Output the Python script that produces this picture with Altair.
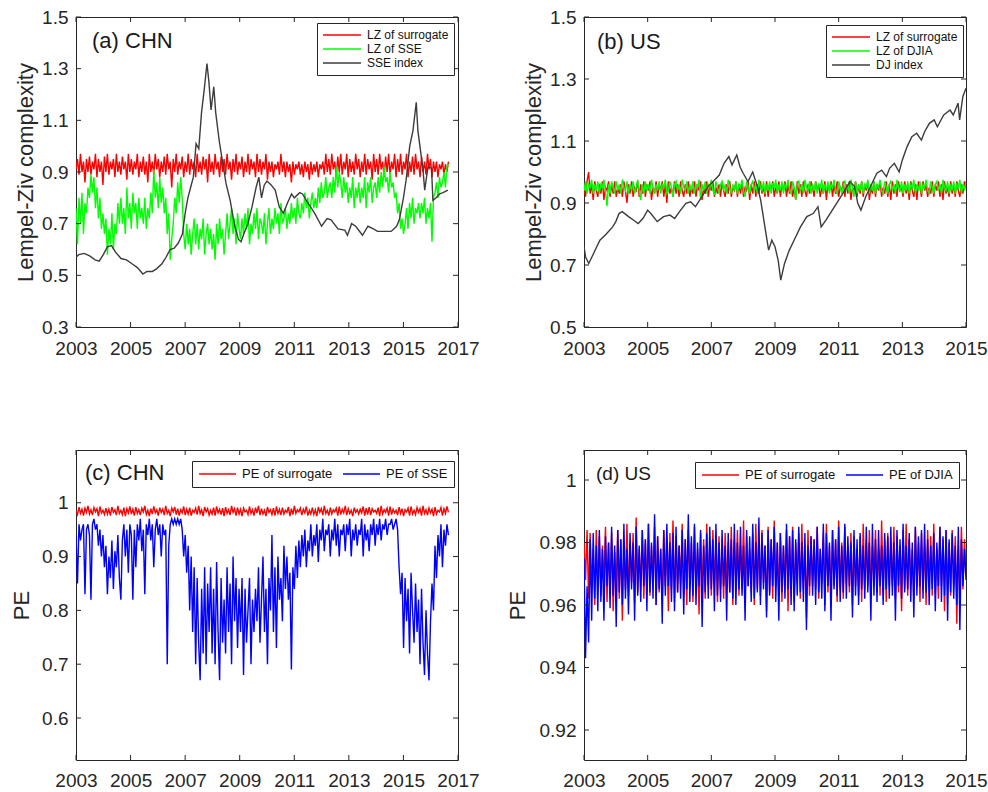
import altair as alt
import numpy as np
import pandas as pd

FONT = "Liberation Sans"
AX = "#262626"
W, H = 382, 310

# ---------------- data ----------------
# panel (a) CHN, LZ complexity; samples span 2003.0 .. 2016.65
a_start, a_end = 2003.0, 2016.65
lz_sur_chn = [
    0.91,0.95,0.89,0.97,0.90,0.94,0.86,0.95,0.90,0.96,
    0.89,0.94,0.91,0.97,0.88,0.95,0.90,0.94,0.85,0.96,
    0.90,0.97,0.89,0.94,0.91,0.95,0.88,0.97,0.90,0.94,
    0.89,0.96,0.91,0.94,0.87,0.97,0.90,0.95,0.89,0.94,
    0.91,0.97,0.88,0.94,0.90,0.96,0.89,0.94,0.86,0.97,
    0.90,0.94,0.89,0.97,0.91,0.95,0.88,0.94,0.90,0.96,
    0.89,0.97,0.91,0.94,0.84,0.95,0.90,0.97,0.89,0.94,
    0.91,0.96,0.88,0.94,0.90,0.97,0.89,0.95,0.91,0.94,
    0.88,0.97,0.90,0.94,0.89,0.96,0.91,0.95,0.86,0.97,
    0.90,0.94,0.89,0.97,0.91,0.94,0.88,0.96,0.90,0.95,
    0.89,0.97,0.91,0.94,0.87,0.95,0.90,0.97,0.89,0.94,
    0.91,0.96,0.88,0.94,0.90,0.97,0.89,0.95,0.91,0.94,
    0.88,0.97,0.90,0.95,0.89,0.94,0.91,0.97,0.87,0.94,
    0.90,0.94,0.88,0.93,0.91,0.94,0.89,0.97,0.90,0.94,
    0.88,0.94,0.90,0.93,0.86,0.94,0.89,0.93,0.91,0.94,
    0.89,0.93,0.88,0.94,0.90,0.93,0.87,0.94,0.89,0.93,
    0.90,0.94,0.88,0.93,0.91,0.94,0.89,0.97,0.90,0.95,
    0.89,0.97,0.91,0.94,0.88,0.96,0.90,0.97,0.89,0.94,
    0.91,0.97,0.88,0.95,0.90,0.94,0.89,0.97,0.91,0.95,
    0.88,0.94,0.90,0.97,0.89,0.95,0.91,0.94,0.87,0.97,
    0.90,0.95,0.89,0.97,0.91,0.94,0.88,0.96,0.90,0.97,
    0.89,0.94,0.91,0.97,0.88,0.95,0.90,0.97,0.89,0.94,
    0.91,0.97,0.88,0.94,0.90,0.96,0.89,0.97,0.91,0.94,
    0.88,0.96,0.90,0.94,0.89,0.97,0.91,0.95,0.88,0.94,
    0.90,0.94,0.88,0.93,0.91,0.94,0.89,0.93,0.90,0.94,
]
lz_sse = [
    0.76,0.62,0.80,0.70,0.82,0.66,0.78,0.74,0.84,0.80,
    0.89,0.82,0.88,0.76,0.84,0.72,0.80,0.68,0.74,0.66,
    0.72,0.58,0.68,0.62,0.74,0.60,0.70,0.66,0.78,0.70,
    0.80,0.70,0.76,0.66,0.84,0.72,0.78,0.68,0.82,0.74,
    0.78,0.68,0.80,0.72,0.76,0.70,0.80,0.68,0.76,0.72,
    0.82,0.74,0.91,0.80,0.86,0.76,0.88,0.78,0.84,0.74,
    0.80,0.66,0.74,0.56,0.64,0.70,0.80,0.74,0.86,0.78,
    0.88,0.80,0.66,0.60,0.70,0.62,0.68,0.58,0.66,0.72,
    0.62,0.70,0.60,0.68,0.64,0.72,0.58,0.66,0.70,0.62,
    0.68,0.60,0.66,0.56,0.70,0.62,0.72,0.64,0.68,0.58,
    0.66,0.74,0.64,0.70,0.76,0.66,0.72,0.62,0.74,0.68,
    0.64,0.72,0.66,0.74,0.68,0.76,0.62,0.70,0.66,0.74,
    0.68,0.76,0.64,0.72,0.70,0.66,0.74,0.62,0.70,0.76,
    0.66,0.72,0.68,0.76,0.70,0.74,0.66,0.78,0.70,0.72,
    0.76,0.68,0.74,0.70,0.78,0.72,0.76,0.70,0.80,0.74,
    0.72,0.78,0.74,0.82,0.76,0.80,0.72,0.78,0.82,0.76,
    0.80,0.76,0.84,0.78,0.86,0.80,0.82,0.88,0.80,0.84,
    0.86,0.80,0.88,0.82,0.92,0.84,0.90,0.86,0.80,0.88,
    0.82,0.86,0.78,0.84,0.80,0.88,0.76,0.84,0.80,0.86,
    0.78,0.84,0.80,0.88,0.76,0.86,0.82,0.88,0.78,0.84,
    0.86,0.80,0.88,0.82,0.90,0.84,0.92,0.86,0.88,0.82,
    0.90,0.84,0.86,0.80,0.82,0.74,0.78,0.68,0.72,0.66,
    0.70,0.76,0.68,0.78,0.72,0.80,0.70,0.76,0.74,0.78,
    0.72,0.78,0.74,0.80,0.70,0.76,0.72,0.78,0.63,0.80,
    0.82,0.86,0.80,0.88,0.84,0.86,0.90,0.84,0.92,0.93,
]
sse_years = [
    2003.0,2003.1,2003.3,2003.5,2003.7,2003.85,2004.0,2004.15,2004.3,2004.45,
    2004.65,2004.85,2005.05,2005.25,2005.45,2005.6,2005.8,2005.95,2006.15,2006.3,
    2006.45,2006.6,2006.75,2006.9,2007.0,2007.1,2007.2,2007.3,2007.4,2007.5,
    2007.6,2007.7,2007.8,2007.87,2007.95,2008.05,2008.12,2008.25,2008.4,2008.5,
    2008.65,2008.8,2008.95,2009.05,2009.15,2009.3,2009.45,2009.6,2009.7,2009.8,
    2009.9,2010.0,2010.15,2010.3,2010.45,2010.6,2010.75,2010.9,2011.0,2011.2,
    2011.3,2011.5,2011.75,2012.0,2012.2,2012.35,2012.6,2012.85,2012.95,2013.1,
    2013.25,2013.5,2013.7,2013.9,2014.05,2014.3,2014.55,2014.75,2014.85,2015.0,
    2015.1,2015.23,2015.35,2015.47,2015.53,2015.63,2015.72,2015.78,2015.9,2016.03,
    2016.08,2016.2,2016.33,2016.45,2016.63,
]
sse_index = [
    0.57,0.58,0.585,0.575,0.56,0.555,0.58,0.61,0.615,0.59,
    0.565,0.56,0.545,0.53,0.505,0.515,0.515,0.525,0.545,0.57,
    0.60,0.605,0.625,0.66,0.74,0.80,0.84,0.88,1.01,0.99,
    1.13,1.22,1.32,1.25,1.14,1.23,1.13,1.02,0.92,0.855,
    0.79,0.70,0.64,0.63,0.66,0.70,0.765,0.84,0.88,0.80,
    0.85,0.865,0.85,0.83,0.765,0.74,0.78,0.815,0.80,0.82,
    0.815,0.78,0.74,0.69,0.72,0.715,0.68,0.675,0.655,0.70,
    0.69,0.655,0.69,0.68,0.67,0.67,0.67,0.69,0.715,0.80,
    0.87,1.0,1.06,1.17,1.06,0.98,0.905,0.83,0.92,0.915,
    0.79,0.80,0.815,0.82,0.83,
]

# panel (b) US, LZ complexity; samples span 2003.0 .. 2015.0
b_start, b_end = 2003.0, 2015.0
lz_sur_us = [
    0.95,0.92,0.97,1.00,0.93,0.96,0.91,0.97,0.94,0.92,
    0.96,0.93,0.97,0.91,0.95,0.94,0.97,0.92,0.96,0.93,
    0.97,0.92,0.95,0.93,0.96,0.92,0.97,0.94,0.90,0.96,
    0.93,0.97,0.92,0.95,0.94,0.97,0.92,0.96,0.93,0.97,
    0.92,0.96,0.94,0.97,0.91,0.95,0.93,0.97,0.92,0.96,
    0.94,0.97,0.92,0.96,0.90,0.97,0.93,0.95,0.92,0.97,
    0.93,0.96,0.92,0.97,0.94,0.92,0.96,0.93,0.97,0.92,
    0.95,0.93,0.97,0.92,0.96,0.94,0.97,0.91,0.95,0.93,
    0.97,0.92,0.96,0.94,0.97,0.92,0.95,0.93,0.96,0.92,
    0.97,0.94,0.92,0.96,0.93,0.97,0.92,0.95,0.94,0.97,
    0.92,0.96,0.93,0.97,0.92,0.95,0.94,0.97,0.91,0.96,
    0.93,0.97,0.92,0.96,0.93,0.97,0.93,0.95,0.92,0.97,
    0.92,0.96,0.94,0.97,0.92,0.95,0.93,0.97,0.92,0.96,
    0.94,0.97,0.92,0.96,0.93,0.97,0.92,0.95,0.91,0.97,
    0.93,0.96,0.92,0.97,0.94,0.92,0.96,0.93,0.97,0.95,
    0.92,0.97,0.94,0.96,0.92,0.95,0.93,0.97,0.91,0.96,
    0.94,0.97,0.92,0.96,0.93,0.97,0.92,0.95,0.94,0.97,
    0.92,0.96,0.93,0.97,0.91,0.95,0.94,0.97,0.92,0.96,
    0.93,0.97,0.92,0.96,0.94,0.97,0.91,0.95,0.93,0.97,
    0.92,0.96,0.94,0.97,0.92,0.95,0.93,0.97,0.92,0.96,
    0.91,0.97,0.93,0.96,0.92,0.97,0.94,0.95,0.92,0.97,
    0.93,0.96,0.91,0.97,0.94,0.92,0.96,0.91,0.97,0.95,
    0.92,0.97,0.94,0.96,0.92,0.95,0.93,0.97,0.92,0.96,
    0.94,0.97,0.92,0.96,0.91,0.97,0.93,0.95,0.92,0.97,
    0.93,0.96,0.92,0.97,0.94,0.92,0.96,0.93,0.97,0.95,
]
lz_djia = [
    0.94,0.97,0.93,0.96,0.95,0.975,0.93,0.96,0.94,0.97,
    0.93,0.96,0.95,0.975,0.94,0.89,0.96,0.93,0.97,0.95,
    0.93,0.97,0.94,0.96,0.93,0.975,0.95,0.94,0.97,0.93,
    0.96,0.94,0.97,0.93,0.95,0.975,0.94,0.91,0.96,0.93,
    0.97,0.94,0.96,0.93,0.975,0.95,0.93,0.96,0.94,0.97,
    0.93,0.96,0.95,0.975,0.93,0.94,0.97,0.95,0.92,0.96,
    0.97,0.94,0.96,0.93,0.975,0.95,0.94,0.97,0.93,0.96,
    0.94,0.97,0.93,0.96,0.95,0.975,0.91,0.96,0.94,0.97,
    0.93,0.96,0.95,0.975,0.94,0.93,0.97,0.95,0.93,0.96,
    0.97,0.94,0.96,0.93,0.975,0.95,0.93,0.96,0.94,0.97,
    0.93,0.96,0.95,0.975,0.94,0.92,0.97,0.95,0.93,0.96,
    0.97,0.94,0.96,0.93,0.975,0.95,0.94,0.97,0.93,0.96,
    0.94,0.97,0.93,0.96,0.95,0.975,0.93,0.96,0.94,0.97,
    0.93,0.96,0.95,0.975,0.94,0.93,0.97,0.95,0.91,0.96,
    0.97,0.94,0.96,0.93,0.975,0.95,0.94,0.97,0.93,0.96,
    0.94,0.97,0.93,0.96,0.95,0.975,0.93,0.96,0.94,0.97,
    0.93,0.96,0.95,0.975,0.94,0.93,0.97,0.95,0.93,0.96,
    0.97,0.94,0.96,0.93,0.975,0.95,0.92,0.97,0.93,0.96,
    0.94,0.97,0.93,0.96,0.95,0.975,0.93,0.96,0.94,0.97,
    0.93,0.96,0.95,0.975,0.94,0.93,0.97,0.95,0.93,0.96,
    0.97,0.94,0.96,0.93,0.975,0.95,0.94,0.97,0.93,0.96,
    0.94,0.97,0.93,0.96,0.95,0.975,0.93,0.96,0.94,0.97,
    0.93,0.96,0.95,0.975,0.94,0.93,0.97,0.95,0.93,0.96,
    0.97,0.94,0.96,0.93,0.975,0.95,0.94,0.97,0.93,0.96,
    0.94,0.97,0.93,0.96,0.95,0.975,0.93,0.96,0.94,0.97,
]
dj_years = [
    2003.0,2003.05,2003.15,2003.3,2003.5,2003.7,2003.9,2004.0,2004.1,2004.2,
    2004.4,2004.55,2004.7,2004.85,2005.0,2005.1,2005.3,2005.5,2005.7,2005.85,
    2006.0,2006.2,2006.35,2006.5,2006.7,2006.9,2007.1,2007.25,2007.4,2007.55,
    2007.65,2007.8,2007.9,2008.0,2008.15,2008.3,2008.45,2008.55,2008.7,2008.8,
    2008.9,2009.0,2009.1,2009.18,2009.3,2009.45,2009.6,2009.8,2010.0,2010.2,
    2010.35,2010.45,2010.6,2010.8,2011.0,2011.2,2011.35,2011.5,2011.6,2011.7,
    2011.85,2012.0,2012.2,2012.35,2012.5,2012.6,2012.75,2012.9,2013.0,2013.15,
    2013.3,2013.45,2013.6,2013.7,2013.85,2014.0,2014.1,2014.3,2014.5,2014.6,
    2014.75,2014.8,2014.9,2015.0,
]
dj_index = [
    0.759,0.726,0.705,0.737,0.78,0.80,0.823,0.84,0.866,0.872,
    0.856,0.845,0.834,0.85,0.877,0.866,0.84,0.856,0.861,0.85,
    0.872,0.899,0.904,0.888,0.92,0.953,0.974,0.99,1.028,1.05,
    1.023,1.055,1.017,0.996,0.969,1.00,0.953,0.909,0.812,0.748,
    0.78,0.759,0.715,0.651,0.705,0.748,0.78,0.823,0.856,0.866,
    0.888,0.823,0.845,0.877,0.909,0.942,0.969,0.953,0.899,0.877,
    0.92,0.953,0.996,1.006,0.985,1.012,1.028,1.0,1.039,1.082,
    1.114,1.125,1.103,1.13,1.157,1.168,1.146,1.184,1.20,1.184,
    1.222,1.168,1.243,1.27,
]

# panel (c) CHN, PE; samples span 2003.0 .. 2016.65
pe_sur_chn = [
    0.985,0.978,0.992,0.980,0.988,0.976,0.990,0.982,0.994,0.979,
    0.987,0.977,0.991,0.983,0.989,0.975,0.993,0.981,0.986,0.978,
    0.990,0.979,0.988,0.976,0.992,0.982,0.987,0.977,0.994,0.980,
    0.986,0.978,0.991,0.975,0.989,0.981,0.993,0.979,0.988,0.976,
    0.992,0.980,0.987,0.977,0.990,0.983,0.994,0.978,0.986,0.975,
    0.989,0.979,0.993,0.981,0.987,0.976,0.991,0.982,0.988,0.977,
    0.994,0.980,0.986,0.975,0.990,0.983,0.992,0.978,0.989,0.976,
    0.987,0.981,0.993,0.977,0.988,0.979,0.991,0.976,0.986,0.982,
    0.990,0.978,0.994,0.980,0.987,0.975,0.992,0.983,0.989,0.977,
    0.986,0.979,0.991,0.976,0.993,0.981,0.988,0.978,0.990,0.975,
    0.992,0.980,0.987,0.977,0.994,0.982,0.989,0.976,0.991,0.979,
    0.988,0.975,0.990,0.983,0.986,0.978,0.993,0.980,0.987,0.976,
    0.991,0.981,0.994,0.977,0.989,0.979,0.986,0.975,0.992,0.982,
    0.987,0.978,0.990,0.976,0.993,0.980,0.988,0.977,0.991,0.979,
    0.986,0.982,0.992,0.975,0.989,0.978,0.994,0.980,0.987,0.983,
    0.990,0.977,0.988,0.981,0.993,0.976,0.986,0.979,0.991,0.978,
    0.987,0.975,0.992,0.982,0.989,0.977,0.994,0.980,0.986,0.976,
    0.991,0.979,0.987,0.983,0.990,0.976,0.993,0.978,0.988,0.981,
    0.994,0.977,0.989,0.980,0.986,0.975,0.991,0.982,0.987,0.979,
    0.988,0.981,0.993,0.976,0.990,0.978,0.992,0.977,0.989,0.983,
    0.986,0.980,0.991,0.975,0.994,0.979,0.987,0.982,0.990,0.976,
    0.993,0.978,0.988,0.981,0.986,0.977,0.992,0.980,0.989,0.975,
    0.987,0.983,0.990,0.976,0.993,0.979,0.986,0.978,0.991,0.982,
    0.989,0.976,0.994,0.980,0.987,0.977,0.990,0.981,0.988,0.975,
    0.992,0.979,0.986,0.983,0.991,0.976,0.989,0.980,0.993,0.982,
]
pe_sse = [
    0.94,0.85,0.96,0.93,0.95,0.96,0.83,0.95,0.96,0.94,
    0.82,0.96,0.97,0.95,0.96,0.92,0.95,0.90,0.94,0.88,
    0.92,0.83,0.90,0.86,0.93,0.84,0.91,0.88,0.94,0.86,
    0.82,0.93,0.96,0.90,0.95,0.87,0.96,0.94,0.82,0.95,
    0.88,0.96,0.93,0.97,0.91,0.95,0.83,0.96,0.94,0.97,
    0.93,0.96,0.88,0.95,0.97,0.94,0.96,0.90,0.96,0.94,
    0.95,0.70,0.92,0.96,0.97,0.96,0.97,0.96,0.97,0.96,
    0.97,0.95,0.90,0.94,0.87,0.92,0.80,0.90,0.76,0.88,
    0.70,0.86,0.74,0.67,0.84,0.72,0.88,0.70,0.85,0.76,
    0.88,0.72,0.84,0.70,0.89,0.76,0.67,0.86,0.74,0.82,
    0.72,0.88,0.76,0.85,0.70,0.90,0.78,0.86,0.73,0.84,
    0.76,0.86,0.68,0.84,0.74,0.80,0.86,0.70,0.82,0.76,
    0.84,0.78,0.88,0.74,0.82,0.90,0.76,0.84,0.70,0.86,
    0.80,0.94,0.76,0.88,0.73,0.90,0.82,0.86,0.78,0.92,
    0.84,0.90,0.82,0.87,0.69,0.88,0.84,0.92,0.86,0.93,
    0.88,0.94,0.90,0.95,0.88,0.93,0.91,0.96,0.90,0.94,
    0.92,0.96,0.89,0.95,0.93,0.97,0.91,0.95,0.94,0.96,
    0.90,0.95,0.93,0.97,0.92,0.96,0.90,0.95,0.94,0.96,
    0.91,0.96,0.94,0.97,0.90,0.95,0.93,0.96,0.92,0.95,
    0.94,0.97,0.90,0.96,0.93,0.95,0.91,0.96,0.94,0.97,
    0.92,0.96,0.94,0.97,0.93,0.96,0.95,0.97,0.94,0.96,
    0.96,0.97,0.95,0.96,0.97,0.95,0.88,0.83,0.87,0.73,
    0.86,0.78,0.84,0.72,0.87,0.80,0.74,0.85,0.76,0.82,
    0.70,0.84,0.74,0.68,0.80,0.72,0.67,0.78,0.85,0.80,
    0.92,0.86,0.94,0.90,0.96,0.88,0.95,0.92,0.96,0.94,
]

# panel (d) US, PE; samples span 2003.0 .. 2015.0
pe_sur_us = [
    0.980,0.968,0.984,0.962,0.983,0.966,0.978,0.960,0.984,0.965,
    0.982,0.963,0.979,0.967,0.985,0.961,0.980,0.964,0.983,0.958,
    0.977,0.966,0.984,0.962,0.981,0.955,0.979,0.965,0.986,0.963,
    0.980,0.967,0.983,0.961,0.988,0.964,0.978,0.966,0.984,0.962,
    0.981,0.965,0.986,0.963,0.979,0.967,0.985,0.960,0.982,0.964,
    0.978,0.962,0.984,0.966,0.980,0.958,0.983,0.965,0.987,0.961,
    0.982,0.964,0.979,0.967,0.986,0.963,0.981,0.960,0.984,0.966,
    0.980,0.961,0.985,0.965,0.978,0.957,0.983,0.964,0.981,0.962,
    0.986,0.966,0.980,0.963,0.984,0.967,0.979,0.961,0.982,0.965,
    0.978,0.962,0.983,0.966,0.980,0.964,0.985,0.960,0.981,0.967,
    0.984,0.963,0.979,0.965,0.987,0.961,0.982,0.966,0.978,0.964,
    0.983,0.960,0.986,0.965,0.980,0.963,0.984,0.967,0.979,0.958,
    0.985,0.964,0.981,0.962,0.987,0.966,0.980,0.963,0.983,0.961,
    0.979,0.966,0.984,0.958,0.982,0.964,0.985,0.961,0.980,0.967,
    0.983,0.962,0.986,0.965,0.979,0.956,0.984,0.963,0.982,0.966,
    0.981,0.965,0.985,0.962,0.978,0.967,0.983,0.960,0.986,0.964,
    0.979,0.963,0.984,0.966,0.981,0.961,0.987,0.965,0.980,0.962,
    0.985,0.967,0.979,0.964,0.983,0.960,0.982,0.966,0.978,0.963,
    0.982,0.961,0.986,0.965,0.980,0.966,0.984,0.962,0.979,0.967,
    0.984,0.964,0.978,0.963,0.987,0.965,0.981,0.961,0.983,0.966,
    0.980,0.966,0.985,0.962,0.982,0.964,0.979,0.958,0.984,0.965,
    0.986,0.963,0.981,0.967,0.978,0.962,0.985,0.966,0.980,0.961,
    0.983,0.965,0.979,0.960,0.984,0.966,0.982,0.963,0.986,0.964,
    0.978,0.962,0.985,0.966,0.981,0.958,0.984,0.965,0.980,0.963,
    0.984,0.966,0.982,0.954,0.979,0.963,0.985,0.965,0.981,0.970,
]
pe_djia = [
    0.975,0.943,0.966,0.948,0.981,0.955,0.983,0.962,0.979,0.958,
    0.984,0.961,0.978,0.955,0.982,0.966,0.980,0.959,0.985,0.963,
    0.979,0.953,0.984,0.964,0.981,0.960,0.986,0.962,0.978,0.957,
    0.983,0.965,0.980,0.955,0.985,0.963,0.979,0.961,0.984,0.966,
    0.981,0.958,0.986,0.964,0.980,0.962,0.989,0.960,0.982,0.965,
    0.978,0.954,0.984,0.963,0.986,0.966,0.980,0.961,0.983,0.958,
    0.985,0.964,0.979,0.962,0.984,0.957,0.981,0.965,0.989,0.961,
    0.982,0.963,0.986,0.960,0.980,0.966,0.984,0.953,0.979,0.964,
    0.983,0.962,0.985,0.965,0.981,0.958,0.986,0.963,0.980,0.961,
    0.984,0.966,0.979,0.955,0.983,0.964,0.981,0.962,0.986,0.960,
    0.980,0.965,0.985,0.963,0.979,0.955,0.984,0.966,0.982,0.961,
    0.986,0.962,0.980,0.964,0.988,0.960,0.983,0.965,0.979,0.956,
    0.984,0.963,0.981,0.966,0.985,0.961,0.980,0.955,0.983,0.964,
    0.979,0.962,0.986,0.965,0.982,0.960,0.984,0.958,0.981,0.963,
    0.985,0.964,0.980,0.961,0.983,0.952,0.979,0.966,0.982,0.963,
    0.981,0.960,0.985,0.964,0.978,0.962,0.986,0.958,0.983,0.966,
    0.980,0.955,0.984,0.965,0.981,0.963,0.985,0.961,0.979,0.964,
    0.986,0.962,0.982,0.966,0.980,0.956,0.984,0.963,0.981,0.960,
    0.983,0.965,0.979,0.962,0.985,0.964,0.980,0.955,0.986,0.963,
    0.981,0.961,0.984,0.966,0.979,0.960,0.983,0.965,0.982,0.962,
    0.985,0.963,0.980,0.955,0.984,0.966,0.981,0.962,0.986,0.964,
    0.979,0.965,0.983,0.961,0.980,0.956,0.985,0.963,0.982,0.966,
    0.984,0.962,0.986,0.964,0.981,0.960,0.979,0.965,0.983,0.958,
    0.980,0.966,0.985,0.961,0.982,0.963,0.984,0.955,0.981,0.964,
    0.983,0.962,0.979,0.960,0.985,0.952,0.981,0.966,0.978,0.968,
]

# axis ticks
x_ticks_chn = [2003, 2005, 2007, 2009, 2011, 2013, 2015, 2017]
x_ticks_us = [2003, 2005, 2007, 2009, 2011, 2013, 2015]
y_ticks_a = [0.3, 0.5, 0.7, 0.9, 1.1, 1.3, 1.5]
y_ticks_b = [0.5, 0.7, 0.9, 1.1, 1.3, 1.5]
y_ticks_c = [0.6, 0.7, 0.8, 0.9, 1.0]
y_ticks_d = [0.92, 0.94, 0.96, 0.98, 1.0]


def even_series(values, start, end, name):
    return pd.DataFrame({"t": np.linspace(start, end, len(values)), "v": values, "s": name})


def dated_series(years, values, name):
    return pd.DataFrame({"t": years, "v": values, "s": name})


def panel(series, names, colors, widths, xdom, xticks, ydom, yticks, ytitle,
          title_x, label_pad_x, tag, tag_size, tag_x, tag_y, legend):
    xs = alt.Scale(domain=xdom, nice=False, zero=False)
    ys = alt.Scale(domain=ydom, nice=False, zero=False)
    cs = alt.Scale(domain=names, range=colors)
    xaxis = alt.Axis(values=xticks, format="d", tickSize=0, domain=False, grid=False,
                     labelFontSize=19, labelFont=FONT, labelColor=AX, labelPadding=label_pad_x,
                     labelFlush=False, labelOverlap=False, title=None)
    yaxis = alt.Axis(values=yticks, format="~g", tickSize=0, domain=False, grid=False,
                     labelFontSize=19, labelFont=FONT, labelColor=AX, labelPadding=8,
                     labelFlush=False, labelOverlap=False,
                     title=ytitle, titleFontSize=22, titleFont=FONT, titleColor=AX,
                     titleFontWeight="normal", titleX=title_x, titleY=H / 2, titleAngle=270,
                     titleAlign="center", titleBaseline="middle")
    layers = []
    for df, w in zip(series, widths):
        layers.append(
            alt.Chart(df).mark_line(strokeWidth=w, clip=True).encode(
                x=alt.X("t:Q", scale=xs, axis=xaxis),
                y=alt.Y("v:Q", scale=ys, axis=yaxis),
                color=alt.Color("s:N", scale=cs, legend=legend),
            )
        )
    xt = pd.DataFrame({"t": xticks})
    yt = pd.DataFrame({"v": yticks})
    for y0, y1 in [(H, H - 5), (0, 5)]:
        layers.append(alt.Chart(xt).mark_rule(color=AX, strokeWidth=1).encode(
            x=alt.X("t:Q", scale=xs, axis=xaxis), y=alt.value(y0), y2=alt.value(y1)))
    for x0, x1 in [(0, 5), (W - 5, W)]:
        layers.append(alt.Chart(yt).mark_rule(color=AX, strokeWidth=1).encode(
            y=alt.Y("v:Q", scale=ys, axis=yaxis), x=alt.value(x0), x2=alt.value(x1)))
    layers.append(
        alt.Chart(pd.DataFrame({"lab": [tag]})).mark_text(
            align="left", baseline="alphabetic", fontSize=tag_size, font=FONT, color="#1a1a1a"
        ).encode(text="lab:N", x=alt.value(tag_x), y=alt.value(tag_y))
    )
    return alt.layer(*layers).properties(width=W, height=H)


def vlegend(lx, ly):
    return alt.Legend(orient="none", legendX=lx, legendY=ly, title=None, direction="vertical",
                      symbolType="stroke", symbolSize=1444, symbolStrokeWidth=1.5,
                      labelFontSize=12, labelFont=FONT, labelColor="#111111",
                      strokeColor=AX, fillColor="white", padding=5, rowPadding=0,
                      clipHeight=14, labelOffset=5)


def hlegend(lx, ly):
    return alt.Legend(orient="none", legendX=lx, legendY=ly, title=None, direction="horizontal",
                      columns=2, symbolType="stroke", symbolSize=1369, symbolStrokeWidth=1.5,
                      labelFontSize=13, labelFont=FONT, labelColor="#111111",
                      strokeColor=AX, fillColor="white", padding=6, columnPadding=9,
                      clipHeight=14, labelOffset=5)


RED, GREEN, BLUE, GRAY = "#ff0000", "#00ff00", "#0000ff", "#3c3c3c"
NOISY = 1.4

pa = panel(
    [even_series(lz_sur_chn, a_start, a_end, "LZ of surrogate"),
     even_series(lz_sse, a_start, a_end, "LZ of SSE"),
     dated_series(sse_years, sse_index, "SSE index")],
    ["LZ of surrogate", "LZ of SSE", "SSE index"], [RED, GREEN, GRAY], [NOISY, NOISY, 1.4],
    [2003, 2017], x_ticks_chn, [0.3, 1.5], y_ticks_a, "Lempel-Ziv complexity",
    -51, 12, "(a) CHN", 22, 16, 31, vlegend(241, 6))

pb = panel(
    [even_series(lz_sur_us, b_start, b_end, "LZ of surrogate"),
     even_series(lz_djia, b_start, b_end, "LZ of DJIA"),
     dated_series(dj_years, dj_index, "DJ index")],
    ["LZ of surrogate", "LZ of DJIA", "DJ index"], [RED, GREEN, GRAY], [NOISY, NOISY, 1.4],
    [2003, 2015], x_ticks_us, [0.5, 1.5], y_ticks_b, "Lempel-Ziv complexity",
    -51, 12, "(b) US", 22, 13, 32, vlegend(242, 8))

pc = panel(
    [even_series(pe_sur_chn, a_start, a_end, "PE of surrogate"),
     even_series(pe_sse, a_start, a_end, "PE of SSE")],
    ["PE of surrogate", "PE of SSE"], [RED, BLUE], [NOISY, NOISY],
    [2003, 2017], x_ticks_chn, [0.522, 1.098], y_ticks_c, "PE",
    -55, 11, "(c) CHN", 22, 9, 30, hlegend(116, 11))

pd_ = panel(
    [even_series(pe_sur_us, b_start, b_end, "PE of surrogate"),
     even_series(pe_djia, b_start, b_end, "PE of DJIA")],
    ["PE of surrogate", "PE of DJIA"], [RED, BLUE], [NOISY, NOISY],
    [2003, 2015], x_ticks_us, [0.9104, 1.0096], y_ticks_d, "PE",
    -67, 11, "(d) US", 19, 12, 30, hlegend(111, 12))

chart = alt.concat(
    pa, pb, pc, pd_, columns=2, spacing={"row": 123, "column": 126}, bounds="flush"
).resolve_scale(
    color="independent"
).resolve_legend(
    color="independent"
).properties(
    padding={"left": 9, "top": 7, "right": 0, "bottom": 0},
    background="white",
).configure_view(
    stroke=AX, strokeWidth=1
)

chart.save("out.html", embed_options={"renderer": "svg", "actions": False})
